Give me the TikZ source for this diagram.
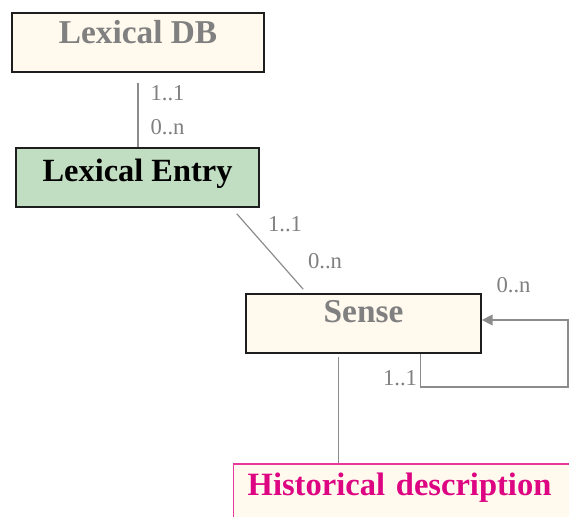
\documentclass[tikz,border=0pt]{standalone}
\usepackage{fontspec}
\setmainfont{Liberation Serif}
\usetikzlibrary{arrows.meta}
\definecolor{cream}{HTML}{FFF9EE}
\definecolor{lgreen}{HTML}{C2DEC2}
\definecolor{txtgrey}{HTML}{808080}
\definecolor{lngrey}{HTML}{8C8C8C}
\definecolor{boxedge}{HTML}{1E1E1E}
\definecolor{magtext}{HTML}{DD0582}
\definecolor{magedge}{HTML}{E8389C}
\tikzset{
  classbox/.style={draw=boxedge, line width=1.3pt, fill=cream, inner xsep=0pt, inner ysep=0pt,
    anchor=base, font=\fontsize{25}{28}\selectfont\bfseries, text=txtgrey},
  conn/.style={draw=lngrey, line width=0.9pt},
  mult/.style={font=\fontsize{17}{19}\selectfont, text=txtgrey, inner sep=0pt},
}
\begin{document}
\begin{tikzpicture}[x=0.75pt, y=-0.75pt]
\useasboundingbox (0,0) rectangle (569,517);
\clip (0,0) rectangle (569,517);
% boxes
\node[classbox, minimum width=189pt, text height=23.25pt, text depth=21pt] (ldb) at (138,44) {Lexical DB};
\node[classbox, fill=lgreen, text=black, font=\fontsize{24.3}{27}\selectfont\bfseries,
      minimum width=182.25pt, text height=25.5pt, text depth=18.75pt] (le) at (137.5,182) {Lexical Entry};
\node[classbox, minimum width=176.25pt, text height=21.75pt, text depth=22.5pt] (sense) at (363.5,323) {Sense};
\node[classbox, draw=magedge, line width=1.1pt, text=magtext, anchor=base west, align=left,
      font=\fontsize{24.4}{27}\selectfont\bfseries,
      inner xsep=10.5pt, text width=250pt, text height=23.25pt, text depth=24pt] (hist) at (233,495) {Historical description};
% connectors
\draw[conn] ([yshift=-7.5pt]ldb.south) -- (ldb.south |- le.north);
\draw[conn] ([xshift=-17.25pt,yshift=-4.5pt]le.south east) -- ([xshift=43.5pt,yshift=3pt]sense.north west);
\coordinate (hs) at ([xshift=69.75pt,yshift=-2.25pt]sense.south west);
\draw[conn] (hs) -- (hs |- hist.north);
\coordinate (ls) at ([xshift=131.25pt]sense.south west);
\coordinate (lr) at (568,387);
\coordinate (lt) at (568,320);
\draw[conn, -{Triangle[width=8pt,length=8pt]}] (ls) -- (ls |- lr) -- (lr) -- (lt) -- (lt -| sense.east);
% multiplicities
\node[mult] (m1) at (167.5,93) {1..1};
\node[mult] (m2) at (167.5,127) {0..n};
\node[mult] (m3) at (285,224) {1..1};
\node[mult] (m4) at (325,261) {0..n};
\node[mult] (m5) at (513.5,285) {0..n};
\node[mult] (m6) at (400,378) {1..1};
\end{tikzpicture}
\end{document}
